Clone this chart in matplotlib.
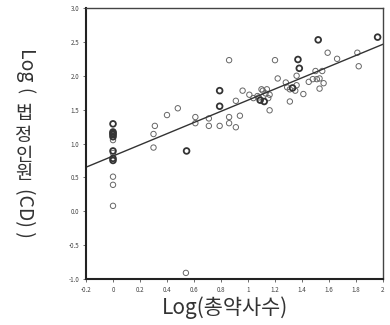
import matplotlib
matplotlib.use("Agg")
import matplotlib.pyplot as plt
import numpy as np

plt.rcParams["font.family"] = ["Noto Sans CJK KR", "DejaVu Sans"]

# log(number of pharmacists) vs log(legal headcount)
x_vals = [
    0, 0, 0, 0, 0, 0, 0, 0, 0, 0, 0, 0, 0,
    0.31, 0.30, 0.30, 0.40, 0.48, 0.545, 0.54,
    0.61, 0.61, 0.71, 0.71, 0.79, 0.79, 0.79,
    0.86, 0.86, 0.86, 0.91, 0.91, 0.94, 0.96,
    1.01, 1.04, 1.07, 1.09, 1.10, 1.11, 1.13, 1.15, 1.16, 1.12, 1.08, 1.14,
    1.16, 1.20, 1.22, 1.28, 1.29, 1.31, 1.33, 1.35, 1.36, 1.31,
    1.37, 1.38, 1.36, 1.41, 1.45, 1.48, 1.50, 1.52,
    1.51, 1.53, 1.55, 1.53, 1.56, 1.59, 1.66, 1.81, 1.82, 1.96,
]
y_vals = [
    1.29, 1.17, 1.15, 1.13, 1.10, 1.05, 0.89, 0.86, 0.78, 0.75, 0.51, 0.39, 0.08,
    1.26, 1.14, 0.94, 1.42, 1.52, 0.89, -0.91,
    1.39, 1.30, 1.37, 1.26, 1.55, 1.78, 1.26,
    2.23, 1.39, 1.30, 1.63, 1.24, 1.41, 1.78,
    1.72, 1.67, 1.70, 1.64, 1.80, 1.78, 1.74, 1.67, 1.72, 1.62, 1.68, 1.80,
    1.49, 2.23, 1.96, 1.90, 1.83, 1.80, 1.82, 1.78, 1.86, 1.62,
    2.24, 2.11, 2.00, 1.73, 1.91, 1.95, 2.07, 2.53,
    1.95, 1.96, 2.07, 1.81, 1.89, 2.34, 2.25, 2.34, 2.14, 2.57,
]
bold = [0, 1, 2, 3, 4, 6, 8, 9, 18, 24, 25, 37, 43, 52, 56, 57, 63, 73]

fit_intercept = 0.815
fit_slope = 0.825

x_ticks = [-0.2, 0, 0.2, 0.4, 0.6, 0.8, 1, 1.2, 1.4, 1.6, 1.8, 2]
x_ticklabels = ["-0.2", "0", "0.2", "0.4", "0.6", "0.8", "1", "1.2", "1.4", "1.6", "1.8", "2"]
y_ticks = [-1.0, -0.5, 0.0, 0.5, 1.0, 1.5, 2.0, 2.5, 3.0]
y_ticklabels = ["-1.0", "-0.5", "0.0", "0.5", "1.0", "1.5", "2.0", "2.5", "3.0"]

W, H = 390, 325
fig = plt.figure(figsize=(W / 100, H / 100), dpi=100)
ax = fig.add_axes([86 / W, 1 - 279 / H, 297 / W, 271 / H])

xs = np.array(x_vals)
ys = np.array(y_vals)
mask = np.zeros(len(xs), dtype=bool)
mask[bold] = True
ax.scatter(xs[~mask], ys[~mask], s=15, facecolors="none", edgecolors="#666666", linewidths=0.7)
ax.scatter(xs[mask], ys[mask], s=17, facecolors="none", edgecolors="#333333", linewidths=1.3)

line_x = np.array([-0.2, 2.0])
ax.plot(line_x, fit_intercept + fit_slope * line_x, color="#333333", linewidth=1.0)

ax.set_xlim(-0.2, 2.0)
ax.set_ylim(-1.0, 3.0)
ax.set_xticks(x_ticks)
ax.set_xticklabels(x_ticklabels, fontsize=4.5, color="#444444")
ax.set_yticks(y_ticks)
ax.set_yticklabels(y_ticklabels, fontsize=4.5, color="#444444")
ax.tick_params(length=2, width=0.6, pad=3, color="#555555")

for side in ["left", "bottom"]:
    ax.spines[side].set_linewidth(1.5)
    ax.spines[side].set_color("#222222")
for side in ["top", "right"]:
    ax.spines[side].set_linewidth(1.0)
    ax.spines[side].set_color("#444444")

# x label
fig.text(225 / W, 1 - 308 / H, "Log(총약사수)", fontsize=15, color="#333333",
         ha="center", va="center")

# vertical y label: latin parts turned clockwise, hangul upright
label_x = 24 / W
txt = dict(color="#333333", ha="center", va="center")
fig.text(label_x, 1 - 67 / H, "Log", rotation=270, fontsize=14, **txt)
fig.text(label_x, 1 - 91 / H, "(", rotation=270, fontsize=13, **txt)
for ch, py in zip("법정인원", [113, 135, 155, 174]):
    fig.text(label_x, 1 - py / H, ch, fontsize=13.5, **txt)
fig.text(label_x, 1 - 213 / H, "(CD) )", rotation=270, fontsize=14, **txt)

fig.savefig("out.png", dpi=100)
